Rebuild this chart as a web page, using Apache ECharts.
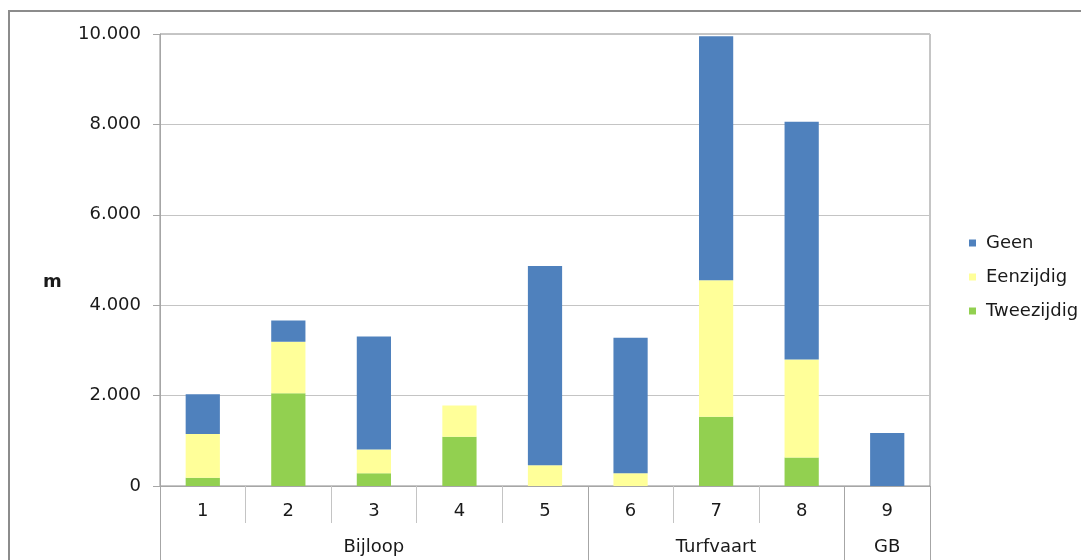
<!DOCTYPE html>
<html>
<head>
<meta charset="utf-8">
<script src="https://cdn.jsdelivr.net/npm/echarts@6/dist/echarts.min.js"></script>
<style>
  html, body { margin: 0; padding: 0; background: #ffffff; overflow: hidden; }
  #chart { width: 1082px; height: 560px; }
</style>
</head>
<body>
<div id="chart"></div>
<script>
// Trajecten (categorieën) en hun gebiedsgroepen
const categories = ['1', '2', '3', '4', '5', '6', '7', '8', '9'];
const groupNames = ['Bijloop', 'Turfvaart', 'GB'];
const groupSizes = [5, 3, 1];

// Lengte in meters per type, gestapeld van onder naar boven
const tweezijdig = [180, 2050, 280, 1090, 0, 0, 1530, 630, 0];
const eenzijdig = [970, 1140, 530, 690, 460, 280, 3020, 2170, 0];
const geen = [880, 470, 2500, 0, 4410, 3000, 5400, 5260, 1170];

const yTicks = [0, 2000, 4000, 6000, 8000, 10000];

// Groepslabel in de middelste categorie van elke groep, scheidingen op de grenzen
const groupLabelAt = categories.map(() => '');
const groupBounds = [];
let start = 0;
groupSizes.forEach((size, g) => {
  groupBounds.push(start);
  groupLabelAt[start + Math.floor(size / 2)] = groupNames[g];
  start += size;
});

const FONT = 'DejaVu Sans';
const textColor = '#1a1a1a';
const axisGray = '#a6a6a6';
const gridGray = '#c4c4c4';
const frameGray = '#8c8c8c';

const fmt = v => String(v).replace(/\B(?=(\d{3})+(?!\d))/g, '.');

const chart = echarts.init(document.getElementById('chart'), null, { renderer: 'canvas' });

chart.setOption({
  animation: false,
  backgroundColor: '#ffffff',
  textStyle: { fontFamily: FONT },
  title: {
    text: 'm',
    left: 38,
    top: 268,
    textStyle: { fontFamily: FONT, fontSize: 18, fontWeight: 'bold', color: textColor }
  },
  legend: {
    orient: 'vertical',
    left: 964,
    top: 228,
    itemWidth: 7,
    itemHeight: 7,
    itemGap: 14,
    icon: 'rect',
    data: ['Geen', 'Eenzijdig', 'Tweezijdig'],
    textStyle: { fontFamily: FONT, fontSize: 18, color: textColor, lineHeight: 20, padding: [0, 0, 0, 5] }
  },
  grid: {
    left: 160,
    right: 152,
    top: 34,
    bottom: 74,
    show: true,
    borderColor: frameGray,
    borderWidth: 1,
    containLabel: false
  },
  xAxis: [
    {
      type: 'category',
      data: categories,
      position: 'bottom',
      axisLine: { show: true, lineStyle: { color: axisGray, width: 1 } },
      axisTick: { show: true, length: 37, lineStyle: { color: gridGray, width: 1 } },
      axisLabel: { margin: 16, fontFamily: FONT, fontSize: 18, color: textColor, interval: 0 },
      splitLine: { show: false }
    },
    {
      type: 'category',
      data: categories,
      position: 'bottom',
      axisLine: { show: false },
      axisTick: {
        show: true,
        length: 80,
        interval: idx => groupBounds.includes(idx),
        lineStyle: { color: axisGray, width: 1 }
      },
      axisLabel: {
        margin: 52,
        interval: 0,
        fontFamily: FONT,
        fontSize: 18,
        color: textColor,
        formatter: (v, idx) => groupLabelAt[idx]
      },
      splitLine: { show: false }
    }
  ],
  yAxis: {
    type: 'value',
    min: yTicks[0],
    max: yTicks[yTicks.length - 1],
    interval: yTicks[1] - yTicks[0],
    axisLine: { show: true, lineStyle: { color: axisGray, width: 1 } },
    axisTick: { show: true, length: 7, lineStyle: { color: axisGray } },
    axisLabel: { margin: 19, fontFamily: FONT, fontSize: 18, color: textColor, formatter: fmt },
    splitLine: { show: true, lineStyle: { color: gridGray, width: 1 } }
  },
  graphic: [
    // outer chart frame: only the left and top edges fall inside the page
    {
      type: 'line',
      silent: true,
      z: 100,
      shape: { x1: 9, y1: 11, x2: 9, y2: 560 },
      style: { stroke: frameGray, lineWidth: 2 }
    },
    {
      type: 'line',
      silent: true,
      z: 100,
      shape: { x1: 8, y1: 11, x2: 1081, y2: 11 },
      style: { stroke: frameGray, lineWidth: 2 }
    }
  ],
  series: [
    { name: 'Tweezijdig', type: 'bar', stack: 'm', xAxisIndex: 0, barWidth: '40%', data: tweezijdig, itemStyle: { color: '#92d050' } },
    { name: 'Eenzijdig', type: 'bar', stack: 'm', xAxisIndex: 0, barWidth: '40%', data: eenzijdig, itemStyle: { color: '#ffff99' } },
    { name: 'Geen', type: 'bar', stack: 'm', xAxisIndex: 0, barWidth: '40%', data: geen, itemStyle: { color: '#4f81bd' } }
  ]
});
</script>
</body>
</html>
